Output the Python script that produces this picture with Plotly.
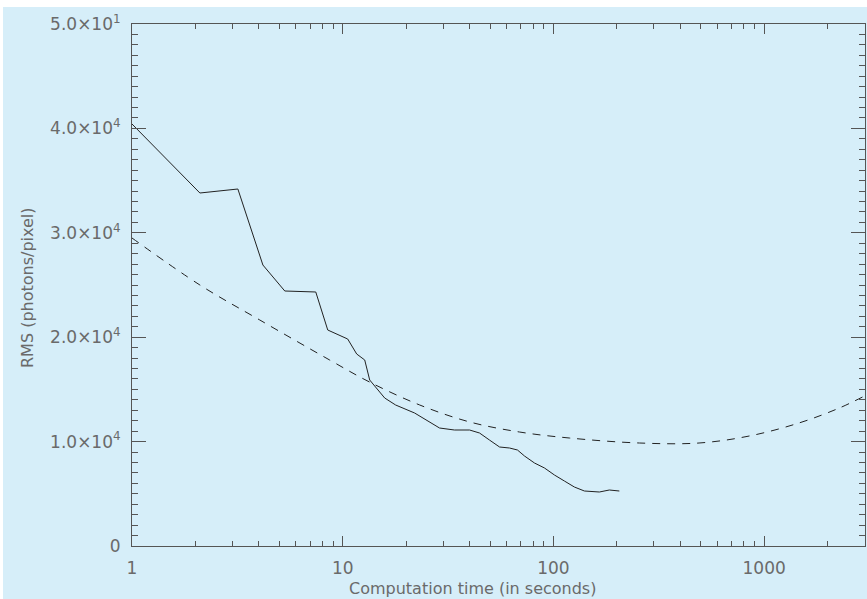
import plotly.graph_objects as go

# Measured curve (solid)
time_measured = [1.00, 2.10, 3.18, 4.18, 5.31, 7.45, 8.49, 10.56, 11.65, 12.72, 13.43, 14.03,
                 15.82, 17.83, 21.94, 28.8, 33.9, 40.0, 44.6, 49.7, 55.5, 61.9, 67.5, 72.9,
                 81.3, 90.7, 101.1, 112.7, 125.7, 140.3, 165.2, 184.2, 205.5]
rms_measured = [40421, 33812, 34195, 26916, 24425, 24330, 20690, 19828, 18391, 17816, 15900, 15421,
                14176, 13506, 12739, 11303, 11111, 11111, 10824, 10153, 9483, 9387, 9195, 8621,
                7950, 7471, 6801, 6226, 5651, 5268, 5172, 5364, 5268]

# Model curve (dashed)
time_model = [1.0, 2.10, 4.04, 8.67, 13.4, 23.2, 40.1, 69.0, 119, 256, 491, 850, 1463, 2275, 2994]
rms_model = [29502, 25000, 21648, 17816, 15709, 13506, 11877, 10920, 10345, 9866, 9866, 10536,
             11782, 13218, 14368]

x_tickvals = [1, 10, 100, 1000]
x_ticktext = ["1", "10", "100", "1000"]
x_minor = [2, 3, 4, 5, 6, 7, 8, 9, 20, 30, 40, 50, 60, 70, 80, 90,
           200, 300, 400, 500, 600, 700, 800, 900, 2000]
y_tickvals = [0, 10000, 20000, 30000, 40000, 50000]
y_ticktext = ["0", "1.0×10<sup>4</sup>", "2.0×10<sup>4</sup>", "3.0×10<sup>4</sup>",
              "4.0×10<sup>4</sup>", "5.0×10<sup>1</sup>"]

BG = "rgb(214,238,249)"
AX = "#555555"
TXT = "#6a6a6a"
W, H = 867, 599
L, R, T, B = 132, 2, 24, 53
pw, ph = W - L - R, H - T - B

fig = go.Figure()
fig.add_trace(go.Scatter(x=time_measured, y=rms_measured, mode="lines",
                         line=dict(color="#222222", width=1), showlegend=False))
fig.add_trace(go.Scatter(x=time_model, y=rms_model, mode="lines",
                         line=dict(color="#222222", width=1, dash="8px,7px", shape="spline"),
                         showlegend=False))

fig.update_layout(
    width=W, height=H,
    margin=dict(l=L, r=R, t=T, b=B),
    paper_bgcolor=BG, plot_bgcolor=BG,
    font=dict(family="DejaVu Sans", size=17, color=TXT),
    xaxis=dict(type="log", range=[0, 3.4786], showgrid=False, zeroline=False,
               showline=True, linecolor=AX, linewidth=1, mirror="allticks",
               ticks="inside", ticklen=10, tickcolor=AX, tickwidth=1,
               tickvals=x_tickvals, ticktext=x_ticktext, ticklabelstandoff=7,
               minor=dict(tickvals=x_minor, ticks="inside", ticklen=5, tickcolor=AX, showgrid=False)),
    yaxis=dict(range=[0, 50000], showgrid=False, zeroline=False,
               showline=True, linecolor=AX, linewidth=1, mirror="allticks",
               ticks="inside", ticklen=14, tickcolor=AX, tickwidth=1,
               tickvals=y_tickvals, ticktext=y_ticktext, ticklabelstandoff=7,
               minor=dict(dtick=1000, ticks="inside", ticklen=6, tickcolor=AX, showgrid=False)),
    shapes=[
        dict(type="rect", xref="paper", yref="paper",
             x0=-L / pw - 0.01, x1=R / pw + 1.01, y0=1 + (T - 7) / ph, y1=1 + T / ph + 0.01,
             fillcolor="white", line=dict(width=0), layer="above"),
        dict(type="rect", xref="paper", yref="paper",
             x0=-L / pw - 0.01, x1=(3 - L) / pw, y0=-B / ph - 0.01, y1=1 + T / ph + 0.01,
             fillcolor="white", line=dict(width=0), layer="above"),
    ],
    annotations=[
        dict(text="Computation time (in seconds)", xref="paper", yref="paper",
             x=(472 - L) / pw, y=(H - B - 588) / ph, xanchor="center", yanchor="middle",
             showarrow=False, font=dict(size=16, color=TXT)),
        dict(text="RMS (photons/pixel)", xref="paper", yref="paper", textangle=-90,
             x=(27 - L) / pw, y=(H - B - 288) / ph, xanchor="center", yanchor="middle",
             showarrow=False, font=dict(size=16, color=TXT)),
    ],
)

fig.write_html("out.html", config={"displayModeBar": False},
               post_script="document.body.style.margin='0px';")
